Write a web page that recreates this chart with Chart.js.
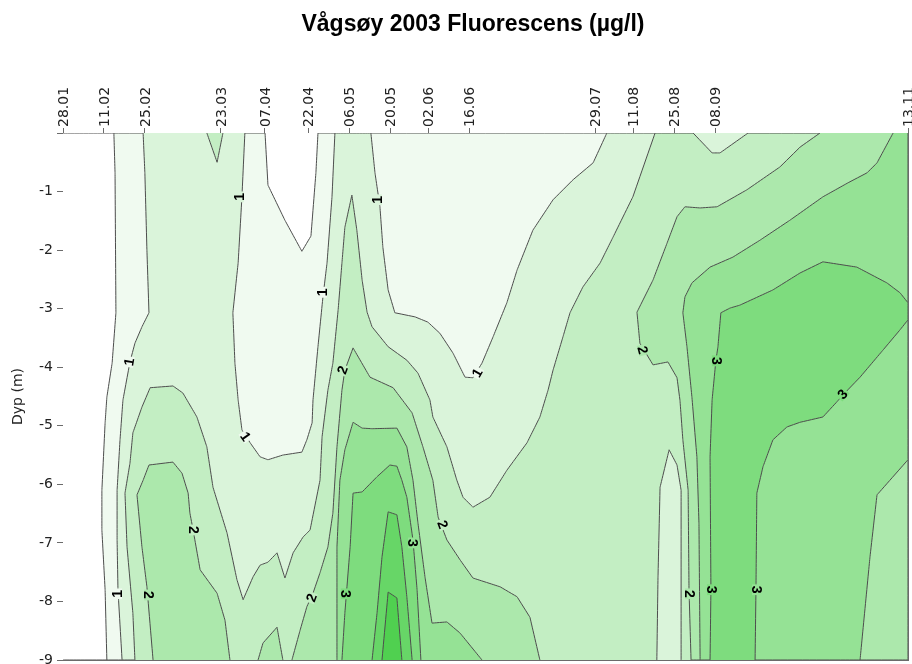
<!DOCTYPE html>
<html lang="no">
<head>
<meta charset="UTF-8">
<title>Vågsøy 2003 Fluorescens</title>
<script src="https://cdn.jsdelivr.net/npm/chart.js@4"></script>
<style>
  html, body { margin: 0; padding: 0; background: #fff; overflow: hidden; }
  canvas { display: block; }
</style>
</head>
<body>
<canvas id="chart" width="946" height="680"></canvas>
<script>
// sampling dates as day of year, with the labels shown on the top axis
const sampleDays = [28, 42, 56, 82, 97, 112, 126, 140, 153, 167, 210, 223, 237, 251, 317];
const sampleLabels = ['28.01', '11.02', '25.02', '23.03', '07.04', '22.04', '06.05', '20.05',
  '02.06', '16.06', '29.07', '11.08', '25.08', '08.09', '13.11'];
const depthTicks = [0, -1, -2, -3, -4, -5, -6, -7, -8, -9];
const dayRange = [28, 317];
const depthRange = [-9, 0];

// contour regions, as [day, depth (m)]
// each one is the area where fluorescence is at or above its level
const below05West = [[28,0],[45.4,0],[45.8,-0.68],[46.1,-3.07],[44.8,-3.93],[43.0,-4.51],[42.4,-4.95],
  [41.3,-6.10],[41.3,-6.78],[42.4,-7.80],[43.0,-9],[28,-9]];
const below05Mid = [[97.1,0],[98.1,-0.89],[103.9,-1.49],[109.7,-2.02],[112.8,-1.76],[114.5,-0.68],[115.2,0]];

const over1 = [[55.4,0],[56.0,-0.68],[56.7,-2.00],[57.4,-3.07],[55.0,-3.31],[52.6,-3.59],[50.9,-3.91],
  [48.5,-4.56],[47.5,-5.24],[46.5,-6.10],[46.5,-6.95],[46.8,-7.80],[48.2,-9],[317,-9],[317,0],
  [214.0,0],[209.3,-0.51],[202.4,-0.80],[195.6,-1.14],[188.7,-1.66],[183.3,-2.34],[179.8,-2.90],
  [175.1,-3.48],[171.3,-3.93],[168.2,-4.18],[165.5,-4.17],[161.4,-3.76],[156.9,-3.42],[152.8,-3.23],
  [148.4,-3.14],[141.5,-3.07],[139.2,-2.68],[137.4,-1.95],[136.4,-1.26],[134.7,-0.68],[133.3,0],
  [121.0,0],[120.0,-1.09],[118.3,-2.22],[116.9,-2.80],[115.2,-3.65],[113.5,-4.56],[113.2,-4.95],
  [111.4,-5.24],[109.7,-5.45],[103.2,-5.50],[98.1,-5.58],[95.4,-5.53],[92.0,-5.29],[89.2,-5.07],
  [87.9,-4.56],[86.8,-3.93],[86.1,-3.07],[87.9,-2.22],[89.2,-1.09],[90.2,0]];

const over15 = [[52.6,-9],[51.9,-8.20],[49.9,-7.07],[49.2,-6.15],[50.9,-5.64],[51.9,-5.12],[55.0,-4.68],
  [57.8,-4.35],[65.6,-4.32],[69.0,-4.44],[73.8,-4.85],[77.2,-5.36],[79.3,-6.05],[84.1,-6.83],
  [87.5,-7.63],[89.6,-7.97],[93.0,-7.58],[95.4,-7.38],[98.1,-7.33],[101.2,-7.17],[103.9,-7.60],
  [106.7,-7.17],[110.1,-6.90],[112.5,-6.78],[115.9,-5.93],[116.6,-5.19],[118.6,-4.39],[120.3,-3.93],
  [122.1,-3.02],[123.4,-2.22],[124.4,-1.61],[126.8,-1.06],[128.5,-1.66],[130.3,-2.51],[132.0,-3.06],
  [133.7,-3.31],[139.2,-3.65],[145.6,-3.88],[149.4,-4.10],[153.5,-4.56],[154.5,-4.85],[159.3,-5.36],
  [162.7,-5.93],[164.8,-6.22],[168.2,-6.39],[174.0,-6.22],[179.8,-5.76],[186.7,-5.29],[191.1,-4.85],
  [193.9,-4.39],[195.6,-4.05],[199.0,-3.48],[201.4,-3.07],[205.8,-2.63],[211.7,-2.22],[216.1,-1.78],
  [222.9,-1.09],[230.5,0],[317,0],[317,-9]];
const over15Top = [[77.2,0],[80.7,-0.50],[82.7,0]];
const dip15Sep = [[243.5,0],[250.0,-0.34],[252.7,-0.34],[262.3,0]];
const dip15Aug = [[231.1,-9],[231.5,-7.58],[232.2,-6.05],[235.3,-5.41],[238.0,-5.67],[239.4,-6.10],[239.4,-9]];

const over2West = [[58.8,-9],[56.7,-7.75],[55.0,-7.07],[53.3,-6.18],[55.4,-5.93],[57.4,-5.67],[65.6,-5.62],
  [68.7,-5.81],[70.8,-6.15],[71.4,-6.49],[72.5,-6.78],[74.9,-7.46],[80.7,-7.86],[83.4,-8.32],[85.1,-9]];
const over2Foot = [[94.7,-9],[96.4,-8.71],[101.2,-8.44],[103.2,-9]];
const over2Mid = [[106.3,-9],[109.1,-8.49],[111.4,-8.09],[113.5,-7.86],[115.9,-7.51],[118.6,-7.07],
  [120.3,-6.49],[121.7,-5.36],[123.4,-4.39],[124.4,-4.05],[127.2,-3.67],[133.0,-4.17],[140.9,-4.35],
  [147.4,-4.78],[151.1,-5.36],[154.5,-5.93],[156.3,-6.56],[159.3,-6.95],[163.8,-7.29],[168.2,-7.60],
  [177.5,-7.75],[183.3,-7.92],[187.7,-8.27],[191.1,-9]];
const over2East = [[286.9,0],[280.1,-0.24],[273.2,-0.58],[261.9,-0.97],[251.7,-1.26],[245.9,-1.28],
  [240.7,-1.26],[238.0,-1.43],[234.6,-1.88],[229.8,-2.51],[224.3,-3.06],[225.3,-3.59],[229.8,-3.96],
  [234.9,-3.91],[238.0,-4.18],[239.0,-4.56],[240.0,-5.24],[241.8,-6.10],[242.1,-7.80],[242.8,-9],
  [317,-9],[317,0]];

const over25Mid = [[121.7,-9],[121.7,-7.07],[122.7,-5.93],[124.4,-5.41],[127.2,-4.94],[130.3,-5.04],
  [133.7,-5.05],[142.2,-5.04],[145.6,-5.36],[147.7,-5.93],[149.4,-6.66],[151.8,-7.58],[154.2,-8.37],
  [159.3,-8.35],[163.8,-8.54],[171.3,-9]];
const over25East = [[311.9,0],[306.4,-0.51],[303.0,-0.68],[296.5,-0.85],[287.9,-1.09],[276.6,-1.49],
  [266.4,-1.83],[257.1,-2.12],[249.3,-2.29],[243.1,-2.56],[240.7,-2.80],[240.0,-3.07],[241.4,-3.65],
  [243.1,-4.51],[244.8,-5.53],[245.5,-6.66],[245.9,-9],[300.6,-9],[304.0,-7.24],[306.4,-6.18],
  [317,-5.58],[317,0]];

const over3Mid = [[123.4,-9],[124.4,-8.20],[126.2,-7.07],[127.2,-6.15],[130.3,-6.13],[135.4,-5.87],
  [139.8,-5.67],[142.2,-5.69],[143.9,-5.93],[145.6,-6.22],[147.7,-6.95],[149.1,-7.80],[150.4,-9]];
const over3East = [[249.3,-9],[249.6,-7.80],[249.3,-5.53],[250.0,-4.56],[251.3,-3.88],[252.0,-3.65],
  [253.0,-3.07],[256.1,-2.99],[259.5,-2.94],[270.8,-2.68],[280.1,-2.39],[287.9,-2.20],[299.5,-2.29],
  [309.8,-2.56],[314.3,-2.73],[317,-2.90],[317,-3.19],[314.3,-3.36],[308.4,-3.71],[300.6,-4.17],
  [294.8,-4.47],[292.7,-4.59],[287.9,-4.85],[280.1,-4.94],[275.6,-5.02],[270.8,-5.24],[267.4,-5.70],
  [265.3,-6.15],[265.0,-7.80],[264.7,-9]];

const over35Mid = [[133.7,-9],[135.4,-8.20],[137.1,-7.24],[139.2,-6.47],[142.2,-6.52],[143.9,-7.07],
  [145.6,-7.92],[147.4,-9]];
const over4Mid = [[137.1,-9],[139.2,-7.84],[142.2,-7.94],[143.9,-9]];

// contour labels: [day, depth, text, angle in degrees]
const contourLabels = [
  [88.5,-1.09,'1',-90],[50.9,-3.91,'1',-80],[135.7,-1.14,'1',-90],[116.9,-2.72,'1',-90],
  [90.2,-5.19,'1',55],[169.9,-4.10,'1',-60],[46.8,-7.87,'1',-90],
  [123.8,-4.05,'2',-70],[57.1,-7.89,'2',90],[72.5,-6.78,'2',90],[113.2,-7.94,'2',-70],
  [157.6,-6.69,'2',70],[226.0,-3.71,'2',75],[242.1,-7.87,'2',90],
  [251.3,-3.89,'3',90],[249.6,-7.80,'3',90],[124.4,-7.87,'3',90],[147.4,-7.00,'3',90],
  [265.0,-7.80,'3',90],[294.8,-4.47,'3',-47]
];

// fill colour for each band (keyed by the band's lower level)
const bandColor = {
  0: '#ffffff', 0.5: '#f0faf0', 1: '#daf4da', 1.5: '#c3eec3', 2: '#ace8ac',
  2.5: '#95e295', 3: '#7edc7e', 3.5: '#67d667', 4: '#50d050'
};

const domain = [[dayRange[0], depthRange[1]], [dayRange[1], depthRange[1]],
  [dayRange[1], depthRange[0]], [dayRange[0], depthRange[0]]];

// drawn in this order, lowest first
const regions = [
  [domain, 0.5], [below05West, 0], [below05Mid, 0],
  [over1, 1],
  [over15, 1.5], [over15Top, 1.5], [dip15Sep, 1], [dip15Aug, 1],
  [over2West, 2], [over2Foot, 2], [over2Mid, 2], [over2East, 2],
  [over25Mid, 2.5], [over25East, 2.5],
  [over3Mid, 3], [over3East, 3],
  [over35Mid, 3.5], [over4Mid, 4]
];

const datasets = regions.map(([pts, level], i) => ({
  data: pts.map(([x, y]) => ({ x, y })),
  fill: 'shape',
  backgroundColor: bandColor[level],
  borderColor: '#4d4d4d',
  borderWidth: 1,
  pointRadius: 0,
  pointHoverRadius: 0,
  tension: 0.000001, // keeps the plain polyline path (no vertical fast-path merging)
  order: regions.length - i
}));

// contour level numbers, written on the lines with a small gap under them
const contourText = {
  id: 'contourText',
  afterDatasetsDraw(chart) {
    const { ctx, scales: { x, y } } = chart;
    ctx.save();
    ctx.font = 'bold 14px "Liberation Sans", Arial, sans-serif';
    ctx.textAlign = 'center';
    ctx.textBaseline = 'middle';
    for (const [d, z, t, a] of contourLabels) {
      const px = x.getPixelForValue(d);
      const py = y.getPixelForValue(z);
      const r = a * Math.PI / 180;
      const sx = Math.round(px + Math.sin(r) * 7);
      const sy = Math.round(py - Math.cos(r) * 7);
      const c = ctx.getImageData(sx, sy, 1, 1).data;
      ctx.save();
      ctx.translate(px, py);
      ctx.rotate(r);
      const w = ctx.measureText(t).width;
      ctx.fillStyle = `rgb(${c[0]},${c[1]},${c[2]})`;
      ctx.fillRect(-w / 2 - 1.5, -4, w + 3, 8);
      ctx.fillStyle = '#000';
      ctx.fillText(t, 0, 0);
      ctx.restore();
    }
    ctx.restore();
  }
};

const axisFont = { family: '"DejaVu Sans", sans-serif', size: 14 };
const titleFont = { family: '"Liberation Sans", Arial, sans-serif', size: 23, weight: 'bold' };
const titlePadTop = 11;
const frameColor = '#6b6b6b';

new Chart(document.getElementById('chart'), {
  type: 'line',
  data: { datasets },
  plugins: [contourText],
  options: {
    responsive: false,
    animation: false,
    devicePixelRatio: 1,
    events: [],
    layout: { padding: 0 },
    plugins: {
      legend: { display: false },
      tooltip: { enabled: false },
      title: {
        display: true,
        text: 'Vågsøy 2003 Fluorescens (µg/l)',
        color: '#000',
        font: titleFont,
        padding: { top: titlePadTop, bottom: 0 }
      }
    },
    scales: {
      x: {
        type: 'linear',
        position: 'top',
        min: dayRange[0],
        max: dayRange[1],
        afterBuildTicks: s => { s.ticks = sampleDays.map(v => ({ value: v })); },
        afterFit: s => { s.height = 133 - (titlePadTop + titleFont.size * 1.2); },
        ticks: {
          autoSkip: false,
          minRotation: 90,
          maxRotation: 90,
          padding: 1,
          labelOffset: 18,
          color: '#222',
          font: axisFont,
          callback: v => sampleLabels[sampleDays.indexOf(v)]
        },
        grid: { drawOnChartArea: false, tickLength: 5, color: frameColor },
        border: { color: frameColor }
      },
      xb: {
        type: 'linear',
        position: 'bottom',
        min: dayRange[0],
        max: dayRange[1],
        ticks: { display: false },
        grid: { display: false, drawTicks: false },
        border: { color: frameColor },
        afterFit: s => { s.height = 20; }
      },
      y: {
        type: 'linear',
        position: 'left',
        min: depthRange[0],
        max: depthRange[1],
        afterBuildTicks: s => { s.ticks = depthTicks.map(v => ({ value: v })); },
        afterFit: s => { s.width = 63; },
        ticks: {
          padding: 4,
          color: '#222',
          font: axisFont,
          callback: v => (v === 0 ? '' : String(v))
        },
        grid: { drawOnChartArea: false, tickLength: 6, color: frameColor },
        border: { color: frameColor },
        title: {
          display: true,
          text: 'Dyp (m)',
          color: '#222',
          font: axisFont,
          padding: { top: 10, bottom: 0 }
        }
      },
      yr: {
        type: 'linear',
        position: 'right',
        min: depthRange[0],
        max: depthRange[1],
        ticks: { display: false },
        grid: { display: false, drawTicks: false },
        border: { color: frameColor },
        afterFit: s => { s.width = 38; }
      }
    }
  }
});
</script>
</body>
</html>
